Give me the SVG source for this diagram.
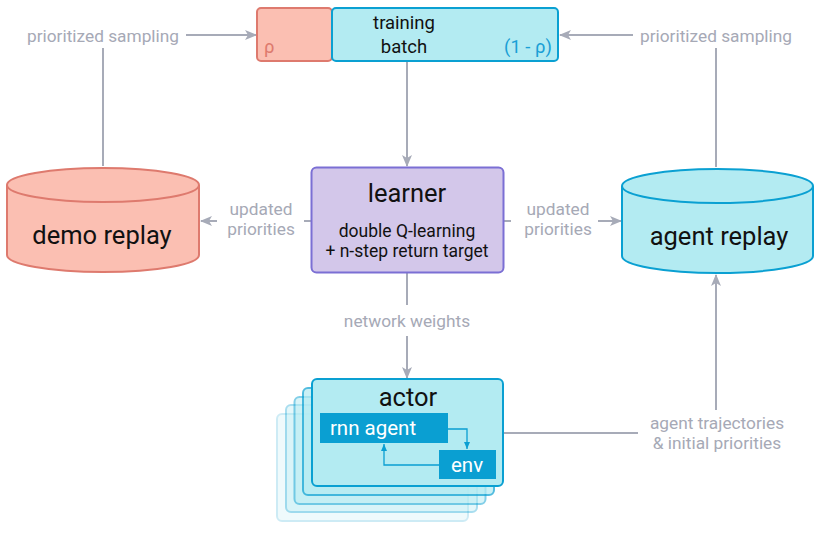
<svg xmlns="http://www.w3.org/2000/svg" width="830" height="537" viewBox="0 0 830 537">
<defs>
<marker id="ag" markerWidth="12" markerHeight="12" refX="11" refY="6" orient="auto" markerUnits="userSpaceOnUse">
<path d="M0,1 L12,6 L0,11 L3,6 Z" fill="#a7abb8"/>
</marker>
<marker id="ab" markerWidth="8" markerHeight="8" refX="7" refY="4" orient="auto" markerUnits="userSpaceOnUse">
<path d="M0,1 L7,4 L0,7 Z" fill="#0a9fd2"/>
</marker>
</defs>
<style>
text{font-family:Roboto,"Open Sans",sans-serif}
.lbl{fill:#a6a9b6;font-size:17.3px}
.big{fill:#111;font-size:25.5px}
.sm{fill:#111;font-size:17.5px}
.tb{fill:#111;font-size:18.5px}
.g{stroke:#a7abb8;stroke-width:2;fill:none}
.b{stroke:#0a9fd2;stroke-width:1.3;fill:none}
.cyanF{fill:#b3ebf2;stroke:#0aa0d2;stroke-width:2}
.salF{fill:#fbbfb2;stroke:#de7a6e;stroke-width:2}
.wt{fill:#fff;font-size:20.5px}
</style>

<g id="connectors">
<line class="g" x1="186" y1="35" x2="256" y2="35" marker-end="url(#ag)"/>
<line class="g" x1="103" y1="48" x2="103" y2="166"/>
<line class="g" x1="633" y1="35" x2="560" y2="35" marker-end="url(#ag)"/>
<line class="g" x1="716" y1="48" x2="716" y2="167"/>
<line class="g" x1="407" y1="62" x2="407" y2="166" marker-end="url(#ag)"/>
<line class="g" x1="311" y1="221" x2="304" y2="221"/>
<line class="g" x1="217" y1="221" x2="201" y2="221" marker-end="url(#ag)"/>
<line class="g" x1="504" y1="221" x2="511" y2="221"/>
<line class="g" x1="598" y1="221" x2="621" y2="221" marker-end="url(#ag)"/>
<line class="g" x1="407" y1="273" x2="407" y2="305"/>
<line class="g" x1="407" y1="336" x2="407" y2="378" marker-end="url(#ag)"/>
<line class="g" x1="504" y1="433" x2="638" y2="433"/>
<line class="g" x1="716" y1="410" x2="716" y2="275" marker-end="url(#ag)"/>
<text class="lbl" x="103" y="42" text-anchor="middle">prioritized sampling</text>
<text class="lbl" x="716" y="42" text-anchor="middle">prioritized sampling</text>
<text class="lbl" x="261" y="215" text-anchor="middle">updated</text>
<text class="lbl" x="261" y="235" text-anchor="middle">priorities</text>
<text class="lbl" x="558" y="215" text-anchor="middle">updated</text>
<text class="lbl" x="558" y="235" text-anchor="middle">priorities</text>
<text class="lbl" x="407" y="327" text-anchor="middle">network weights</text>
<text class="lbl" x="717" y="429" text-anchor="middle">agent trajectories</text>
<text class="lbl" x="717" y="449" text-anchor="middle">&amp; initial priorities</text>
</g>

<g id="batch">
<rect x="257" y="8" width="75" height="53" rx="4" class="salF"/>
<rect x="332" y="8" width="226" height="53" rx="4" class="cyanF"/>
<text class="tb" x="264" y="53" style="fill:#de7a6e">ρ</text>
<text class="tb" x="404" y="29" text-anchor="middle">training</text>
<text class="tb" x="404" y="53" text-anchor="middle">batch</text>
<text class="tb" x="552" y="53" text-anchor="end" style="fill:#1a9fd6">(1 - ρ)</text>
</g>

<g id="demo-replay">
<path d="M7,185 L7,255 A96,17 0 0 0 199,255 L199,185" class="salF"/>
<ellipse cx="103" cy="185" rx="96" ry="17" class="salF"/>
<text class="big" x="102" y="244" text-anchor="middle">demo replay</text>
</g>

<g id="agent-replay">
<path d="M622,186 L622,256 A95.5,17 0 0 0 813,256 L813,186" class="cyanF"/>
<ellipse cx="717.5" cy="186" rx="95.5" ry="17" class="cyanF"/>
<text class="big" x="719" y="245" text-anchor="middle">agent replay</text>
</g>

<g id="learner">
<rect x="311.5" y="167.5" width="192" height="105" rx="5" fill="#d3c7ea" stroke="#7b6fd4" stroke-width="2"/>
<text class="big" x="407" y="202" text-anchor="middle">learner</text>
<text class="sm" x="407" y="237" text-anchor="middle">double Q-learning</text>
<text class="sm" x="407" y="257" text-anchor="middle">+ n-step return target</text>
</g>

<g id="actor">
<rect x="277" y="414" width="191" height="107" rx="5" class="cyanF" opacity="0.2"/>
<rect x="286" y="405" width="191" height="107" rx="5" class="cyanF" opacity="0.35"/>
<rect x="294.5" y="397" width="191" height="107" rx="5" class="cyanF" opacity="0.5"/>
<rect x="303" y="388" width="191" height="107" rx="5" class="cyanF" opacity="0.7"/>
<rect x="312" y="379" width="191" height="107" rx="5" class="cyanF"/>
<text class="big" x="408" y="406" text-anchor="middle">actor</text>
<rect x="320" y="413" width="128" height="30" fill="#0a9fd2"/>
<text class="wt" x="373" y="435" text-anchor="middle">rnn agent</text>
<rect x="439" y="450" width="57" height="29" fill="#0a9fd2"/>
<text class="wt" x="467" y="472" text-anchor="middle">env</text>
<polyline class="b" points="448,429 467,429 467,449" marker-end="url(#ab)"/>
<polyline class="b" points="439,465 384,465 384,444" marker-end="url(#ab)"/>
</g>
</svg>
